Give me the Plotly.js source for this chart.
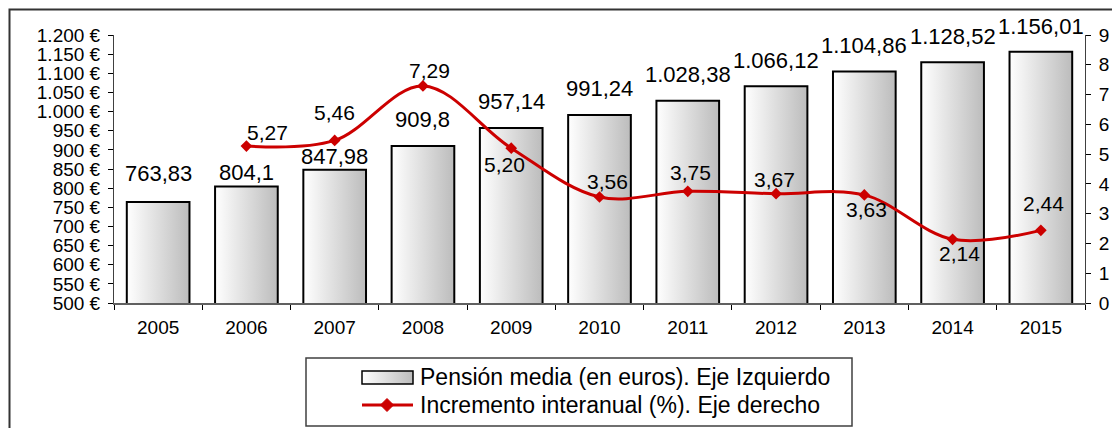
<!DOCTYPE html>
<html>
<head>
<meta charset="utf-8">
<script src="https://cdn.plot.ly/plotly-3.0.1.min.js"></script>
<style>
html,body{margin:0;padding:0;background:#ffffff;}
#chart{width:1112px;height:428px;}
</style>
</head>
<body>
<div id="chart"></div>
<script>
// ---------------- data ----------------
const years = ['2005','2006','2007','2008','2009','2010','2011','2012','2013','2014','2015'];
const pension = [763.83, 804.1, 847.98, 909.8, 957.14, 991.24, 1028.38, 1066.12, 1104.86, 1128.52, 1156.01];
const increment = [null, 5.27, 5.46, 7.29, 5.20, 3.56, 3.75, 3.67, 3.63, 2.14, 2.44];
const legendLabels = ['Pensión media (en euros). Eje Izquierdo', 'Incremento interanual (%). Eje derecho'];
const leftRange = [500, 1200];
const leftStep = 50;
const rightRange = [0, 9];
const rightStep = 1;

// ---------------- label placement (pixels, style only) ----------------
const barLabelLift = [28, 14, 13, 27, 26, 26, 26, 26, 26, 26, 25];
const lineLabelShift = [null, [21, 14], [0, 28], [7, 15], [-7, -16], [8, 15], [3, 19], [-2, 14], [2, -15], [7, -14], [3, 27]];

// ---------------- geometry ----------------
const W = 1112, H = 428;
const M = {l: 114, r: 27, t: 35, b: 125};
const PW = W - M.l - M.r, PH = H - M.t - M.b;
const px2x = px => (px - M.l) / PW;
const py2y = py => (H - M.b - py) / PH;

const FONT = 'Arial, "Liberation Sans", sans-serif';
const RED = '#cc0000';

function fmtEs(v, fixed) {
  let s = v.toFixed(2);
  if (!fixed) s = s.replace(/0+$/, '').replace(/\.$/, '');
  const parts = s.split('.');
  parts[0] = parts[0].replace(/\B(?=(\d{3})+(?!\d))/g, '.');
  return parts.join(',');
}

const bars = {
  type: 'bar', x: years, y: pension, xaxis: 'x', yaxis: 'y',
  width: 0.71,
  marker: {color: '#dedede', line: {color: '#000000', width: 2}},
  hoverinfo: 'skip', showlegend: false
};
const line = {
  type: 'scatter', mode: 'lines+markers', x: years, y: increment, xaxis: 'x', yaxis: 'y2',
  line: {color: RED, width: 3, shape: 'spline', smoothing: 1},
  marker: {symbol: 'diamond', size: 9, color: RED},
  cliponaxis: false, hoverinfo: 'skip', showlegend: false
};

const annotations = [];
years.forEach((yr, i) => {
  // on a category axis an annotation x is the category index
  annotations.push({
    x: i, y: pension[i], xref: 'x', yref: 'y', text: fmtEs(pension[i], false),
    showarrow: false, xanchor: 'center', yanchor: 'middle', yshift: barLabelLift[i],
    font: {family: FONT, size: 22, color: '#000'}
  });
  if (increment[i] !== null) {
    annotations.push({
      x: i, y: increment[i], xref: 'x', yref: 'y2', text: fmtEs(increment[i], true),
      showarrow: false, xanchor: 'center', yanchor: 'middle',
      xshift: lineLabelShift[i][0], yshift: lineLabelShift[i][1],
      font: {family: FONT, size: 21, color: '#000'}
    });
  }
});
// legend texts
annotations.push({x: px2x(418), y: py2y(377), xref: 'paper', yref: 'paper', text: legendLabels[0],
  showarrow: false, xanchor: 'left', yanchor: 'middle', font: {family: FONT, size: 23, color: '#000'}});
annotations.push({x: px2x(418), y: py2y(405), xref: 'paper', yref: 'paper', text: legendLabels[1],
  showarrow: false, xanchor: 'left', yanchor: 'middle', font: {family: FONT, size: 23, color: '#000'}});

const dcx = 387, dcy = 405, dr = 6.5;
const diamondPath = 'M' + px2x(dcx - dr) + ',' + py2y(dcy) + ' L' + px2x(dcx) + ',' + py2y(dcy - dr) +
  ' L' + px2x(dcx + dr) + ',' + py2y(dcy) + ' L' + px2x(dcx) + ',' + py2y(dcy + dr) + ' Z';

const shapes = [
  // outer frame
  {type: 'rect', xref: 'paper', yref: 'paper', x0: px2x(9.5), x1: px2x(1200), y0: py2y(500), y1: py2y(9.5),
   line: {color: '#333333', width: 2}, fillcolor: 'rgba(0,0,0,0)'},
  // legend box
  {type: 'rect', xref: 'paper', yref: 'paper', x0: px2x(306), x1: px2x(852), y0: py2y(426), y1: py2y(358),
   line: {color: '#404040', width: 1.5}, fillcolor: '#ffffff'},
  // legend bar symbol
  {type: 'rect', xref: 'paper', yref: 'paper', x0: px2x(362), x1: px2x(413), y0: py2y(384), y1: py2y(371),
   line: {color: '#000000', width: 1.5}, fillcolor: '#dedede'},
  // legend line symbol
  {type: 'line', xref: 'paper', yref: 'paper', x0: px2x(362), x1: px2x(413), y0: py2y(405), y1: py2y(405),
   line: {color: RED, width: 3}},
  {type: 'path', xref: 'paper', yref: 'paper', path: diamondPath, line: {color: RED, width: 1}, fillcolor: RED}
];

const nCat = years.length;
const boundaries = [];
for (let i = 0; i <= nCat; i++) boundaries.push(i - 0.5);

const tickFont = {family: FONT, size: 19, color: '#000'};

const layout = {
  width: W, height: H,
  margin: M,
  paper_bgcolor: '#ffffff', plot_bgcolor: '#ffffff',
  separators: ',.',
  font: {family: FONT, color: '#000'},
  showlegend: false,
  xaxis: {
    type: 'category', range: [-0.5, nCat - 0.5], showline: true, linecolor: '#606060', linewidth: 2,
    ticks: 'outside', tickson: 'boundaries', ticklen: 5, tickcolor: '#000', tickwidth: 1,
    tickfont: tickFont, ticklabelstandoff: 6, showgrid: false, zeroline: false, fixedrange: true
  },
  xaxis2: {
    overlaying: 'x', anchor: 'y', type: 'linear', range: [-0.5, nCat - 0.5], tickmode: 'array',
    tickvals: boundaries, ticks: 'inside', ticklen: 5, tickcolor: '#000', tickwidth: 1,
    showticklabels: false, showgrid: false, zeroline: false, showline: false, fixedrange: true
  },
  yaxis: {
    range: leftRange, tick0: leftRange[0], dtick: leftStep, tickformat: ',.0f', ticksuffix: ' €',
    ticks: 'outside', ticklen: 5, tickcolor: '#000', tickwidth: 1, showline: true, linecolor: '#404040', linewidth: 1,
    tickfont: tickFont, ticklabelstandoff: 4, showgrid: false, zeroline: false, fixedrange: true
  },
  yaxis2: {
    overlaying: 'y', side: 'right', anchor: 'x', range: rightRange, tick0: 0, dtick: rightStep,
    ticks: 'outside', ticklen: 5, tickcolor: '#000', tickwidth: 1, showline: true, linecolor: '#404040', linewidth: 1,
    tickfont: tickFont, ticklabelstandoff: 4, showgrid: false, zeroline: false, fixedrange: true
  },
  yaxis3: {
    overlaying: 'y', side: 'left', anchor: 'x', range: leftRange, tick0: leftRange[0], dtick: leftStep,
    ticks: 'inside', ticklen: 5, tickcolor: '#000', tickwidth: 1, showticklabels: false,
    showgrid: false, zeroline: false, showline: false, fixedrange: true
  },
  yaxis4: {
    overlaying: 'y', side: 'right', anchor: 'x', range: rightRange, tick0: 0, dtick: rightStep,
    ticks: 'inside', ticklen: 5, tickcolor: '#000', tickwidth: 1, showticklabels: false,
    showgrid: false, zeroline: false, showline: false, fixedrange: true
  },
  annotations: annotations,
  shapes: shapes
};

Plotly.newPlot('chart', [bars, line], layout, {staticPlot: true, displayModeBar: false}).then(gd => {
  const ns = 'http://www.w3.org/2000/svg';
  const svg = gd.querySelector('svg.main-svg');
  let defs = svg.querySelector('defs');
  if (!defs) { defs = document.createElementNS(ns, 'defs'); svg.insertBefore(defs, svg.firstChild); }
  const grad = document.createElementNS(ns, 'linearGradient');
  grad.setAttribute('id', 'barGrad');
  grad.setAttribute('x1', '0'); grad.setAttribute('y1', '0');
  grad.setAttribute('x2', '1'); grad.setAttribute('y2', '0');
  [['0', '#ffffff'], ['1', '#bcbcbc']].forEach(([o, c]) => {
    const s = document.createElementNS(ns, 'stop');
    s.setAttribute('offset', o); s.setAttribute('stop-color', c);
    grad.appendChild(s);
  });
  defs.appendChild(grad);
  gd.querySelectorAll('.barlayer .point path').forEach(p => { p.style.fill = 'url(#barGrad)'; });
  const legRect = gd.querySelector('.shapelayer path[data-index="2"]');
  if (legRect) legRect.style.fill = 'url(#barGrad)';
});
</script>
</body>
</html>
